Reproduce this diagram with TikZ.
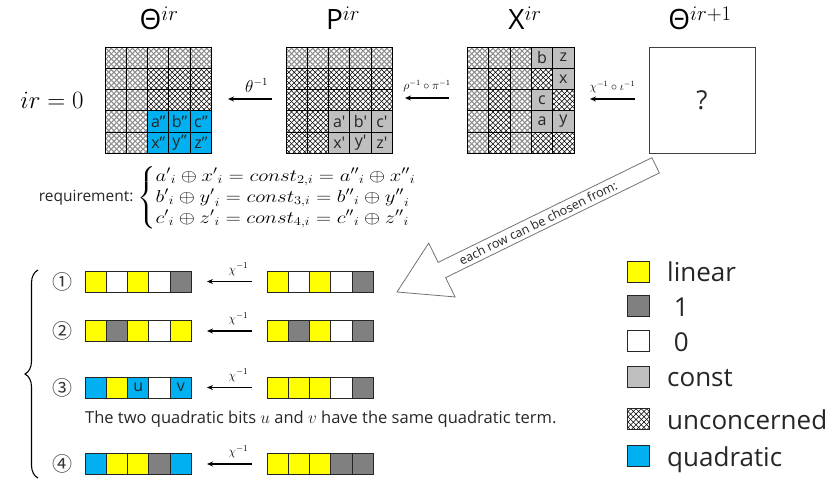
\documentclass[tikz,border=0pt]{standalone}
\usepackage{amsmath}
\usepackage{graphicx}
\usepackage{fontspec}
\setmainfont{Open Sans}
\newfontfamily\circfont{Noto Sans CJK SC}
\usetikzlibrary{arrows.meta,decorations.pathreplacing,patterns}

\definecolor{linc}{HTML}{FFFF00}
\definecolor{onec}{HTML}{808080}
\definecolor{constc}{HTML}{BFBFBF}
\definecolor{quadc}{HTML}{00B0F0}

\pgfdeclarepatternformonly{xhatchA}{\pgfqpoint{-1pt}{-1pt}}{\pgfqpoint{6.3pt}{6.3pt}}{\pgfqpoint{5.3pt}{5.3pt}}{%
  \pgfsetlinewidth{0.55pt}%
  \pgfpathmoveto{\pgfqpoint{0pt}{0pt}}\pgfpathlineto{\pgfqpoint{5.3pt}{5.3pt}}%
  \pgfpathmoveto{\pgfqpoint{0pt}{5.3pt}}\pgfpathlineto{\pgfqpoint{5.3pt}{0pt}}%
  \pgfusepath{stroke}}
\pgfdeclarepatternformonly{xhatchB}{\pgfqpoint{-1pt}{-1pt}}{\pgfqpoint{6.3pt}{6.3pt}}{\pgfqpoint{5.3pt}{5.3pt}}{%
  \pgfsetlinewidth{1pt}%
  \pgfpathmoveto{\pgfqpoint{0pt}{0pt}}\pgfpathlineto{\pgfqpoint{5.3pt}{5.3pt}}%
  \pgfpathmoveto{\pgfqpoint{0pt}{5.3pt}}\pgfpathlineto{\pgfqpoint{5.3pt}{0pt}}%
  \pgfusepath{stroke}}

\tikzset{
  cellbase/.style={draw=black, line width=1pt, minimum width=21.3pt, minimum height=21.3pt,
    inner sep=0pt, font=\fontsize{16}{16}\selectfont, text=black!85},
  barcell/.style={draw=black!85, line width=1pt, minimum width=21.3pt, minimum height=21pt,
    inner sep=0pt, font=\fontsize{16}{16}\selectfont, text=black!85},
  ua/.style={pattern=xhatchA, pattern color=black},
  ub/.style={pattern=xhatchB, pattern color=black!45},
  qd/.style={fill=quadc},
  ct/.style={fill=constc},
  ln/.style={fill=linc},
  on/.style={fill=onec},
  ze/.style={fill=white},
  arr/.style={line width=1.3pt, -{Stealth[length=6pt,width=5pt]}},
  title/.style={font=\fontsize{28}{28}\selectfont},
  legbox/.style={draw=black!85, line width=1pt, minimum width=22pt, minimum height=21pt, inner sep=0pt},
  legtext/.style={anchor=base west, font=\fontsize{26}{26}\selectfont, text=black!85, inner sep=0pt},
  circnum/.style={font=\circfont\fontsize{20}{20}\selectfont, text=black!80},
}

\newcommand\gridrow[5]{%
  \foreach \st/\tx [count=\j] in {#5} {%
    \node[cellbase,\st] (#1-#4-\j) at ({#2+(\j-0.5)*21.3},{#3+(#4-0.5)*21.3}) {\tx};
  }}
\newcommand\barrow[4]{%
  \foreach \st/\tx [count=\j] in {#4} {%
    \node[barcell,\st] (#1-\j) at ({#2+(\j-0.5)*21.3},#3) {\tx};
  }}
\newcommand\qs{\textquotesingle}

\begin{document}
\begin{tikzpicture}[x=1pt,y=-1pt]
\useasboundingbox (0,0) rectangle (836,483);

% titles
\node[title] (t1) at (159,18) {Θ$^{ir}$};
\node[title] (t2) at (343,18) {P$^{ir}$};
\node[title] (t3) at (525,18) {X$^{ir}$};
\node[title] (t4) at (700,18) {Θ$^{ir+1}$};
\node[font=\fontsize{28}{28}\selectfont] (irz) at (52,100) {$ir=0$};

% grid 1
\gridrow{g1}{105}{47}{1}{ub/,ub/,ub/,ub/,ub/}
\gridrow{g1}{105}{47}{2}{ub/,ub/,ua/,ua/,ua/}
\gridrow{g1}{105}{47}{3}{ub/,ub/,ua/,ua/,ua/}
\gridrow{g1}{105}{47}{4}{ub/,ub/,qd/a",qd/b",qd/c"}
\gridrow{g1}{105}{47}{5}{ub/,ub/,qd/x",qd/y",qd/z"}
% grid 2
\gridrow{g2}{286}{47}{1}{ub/,ub/,ub/,ub/,ub/}
\gridrow{g2}{286}{47}{2}{ua/,ua/,ua/,ua/,ua/}
\gridrow{g2}{286}{47}{3}{ua/,ua/,ua/,ua/,ua/}
\gridrow{g2}{286}{47}{4}{ua/,ua/,ct/a\qs,ct/b\qs,ct/c\qs}
\gridrow{g2}{286}{47}{5}{ua/,ua/,ct/x\qs,ct/y\qs,ct/z\qs}
% grid 3
\gridrow{g3}{467.5}{47}{1}{ub/,ub/,ub/,ct/b,ct/z}
\gridrow{g3}{467.5}{47}{2}{ub/,ua/,ub/,ua/,ct/x}
\gridrow{g3}{467.5}{47}{3}{ub/,ua/,ub/,ct/c,ua/}
\gridrow{g3}{467.5}{47}{4}{ub/,ua/,ub/,ct/a,ct/y}
\gridrow{g3}{467.5}{47}{5}{ub/,ua/,ub/,ua/,ua/}
% box 4
\node[draw=black!75, line width=1pt, minimum width=106pt, minimum height=106pt,
  font=\fontsize{26}{26}\selectfont, text=black!85] (g4) at (702,100) {?};

% top arrows
\coordinate (a1s) at (272,99); \coordinate (a1e) at (228,99);
\draw[arr] (a1s) -- (a1e) node[pos=0.35, above=3pt, font=\fontsize{16}{16}\selectfont] {$\theta^{-1}$};
\coordinate (a2s) at (449,98); \coordinate (a2e) at (405,98);
\draw[arr] (a2s) -- (a2e) node[midway, above=2pt, font=\fontsize{12}{12}\selectfont] {$\rho^{-1}\circ\pi^{-1}$};
\coordinate (a3s) at (635,99); \coordinate (a3e) at (590,99);
\draw[arr] (a3s) -- (a3e) node[midway, above=2pt, font=\fontsize{12}{12}\selectfont] {$\chi^{-1}\circ\iota^{-1}$};

% requirement
\node[anchor=east, font=\fontsize{15.5}{16}\selectfont, text=black!85] (req) at (137,198) {requirement:};
\node[anchor=west, inner sep=0pt, font=\fontsize{18}{17.5}\selectfont] (eq) at (137,198)
  {\scalebox{1.2}[1]{\def\arraystretch{1}$\begin{cases}
   {a'}_i \oplus {x'}_i = const_{2,i} = {a''}_i \oplus {x''}_i\\
   {b'}_i \oplus {y'}_i = const_{3,i} = {b''}_i \oplus {y''}_i\\
   {c'}_i \oplus {z'}_i = const_{4,i} = {c''}_i \oplus {z''}_i
  \end{cases}$}};

% big hollow arrow
\begin{scope}[shift={(397,292)}, rotate=26.1]
  \draw[draw=black!55, line width=0.8pt, fill=white] (0,0) -- (50,30) -- (50,8.5) -- (288,8.5)
    -- (288,-8.5) -- (50,-8.5) -- (50,-30) -- cycle;
  \node[rotate=26.1, font=\fontsize{12.5}{13}\selectfont, text=black!85, inner sep=0pt] (choose) at (157,0) {each row can be chosen from:};
\end{scope}

% brace
\coordinate (brb) at (38,478); \coordinate (brt) at (38,270);
\draw[decorate, decoration={brace, amplitude=13pt}, line width=1.1pt] (brb) -- (brt);

% rows
\node[circnum] (n1) at (62,281.5) {①};
\node[circnum] (n2) at (62,331) {②};
\node[circnum] (n3) at (62,387.5) {③};
\node[circnum] (n4) at (62,464) {④};

\barrow{l1}{85}{281.5}{ln/,ze/,ln/,ze/,on/}
\barrow{r1}{267}{281.5}{ln/,ze/,ln/,ze/,on/}
\barrow{l2}{85}{331}{ln/,on/,ln/,ze/,ln/}
\barrow{r2}{267}{331}{ln/,on/,ln/,ze/,on/}
\barrow{l3}{85}{387.5}{qd/,ln/,qd/u,ze/,qd/v}
\barrow{r3}{267}{387.5}{ln/,ln/,ln/,ze/,on/}
\barrow{l4}{85}{464}{qd/,ln/,ln/,on/,qd/}
\barrow{r4}{267}{464}{ln/,ln/,ln/,on/,on/}

\foreach \r/\y in {1/281.5,2/331,3/387.5,4/464} {
  \coordinate (ra\r s) at (252,\y); \coordinate (ra\r e) at (207,\y);
  \draw[arr] (ra\r s) -- (ra\r e) node[pos=0.3, above=2pt, font=\fontsize{13}{13}\selectfont] {$\chi^{-1}$};
}

\node[anchor=base west, inner sep=0pt, font=\fontsize{16.5}{17}\selectfont, text=black!85] (note) at (85,423)
  {The two quadratic bits $u$ and $v$ have the same quadratic term.};

% legend
\node[legbox,ln] (k1) at (638,271.5) {};
\node[legbox,on] (k2) at (638,306) {};
\node[legbox,ze] (k3) at (638,341) {};
\node[legbox,ct] (k4) at (638,376.5) {};
\node[legbox,ua] (k5) at (638,419) {};
\node[legbox,qd] (k6) at (638,456) {};
\node[legtext] (k1t) at (667,281.5) {linear};
\node[legtext] (k2t) at (667,316) {\ 1};
\node[legtext] (k3t) at (667,351) {\ 0};
\node[legtext] (k4t) at (667,386.5) {const};
\node[legtext] (k5t) at (667,429) {unconcerned};
\node[legtext] (k6t) at (667,466) {quadratic};
\end{tikzpicture}
\end{document}
